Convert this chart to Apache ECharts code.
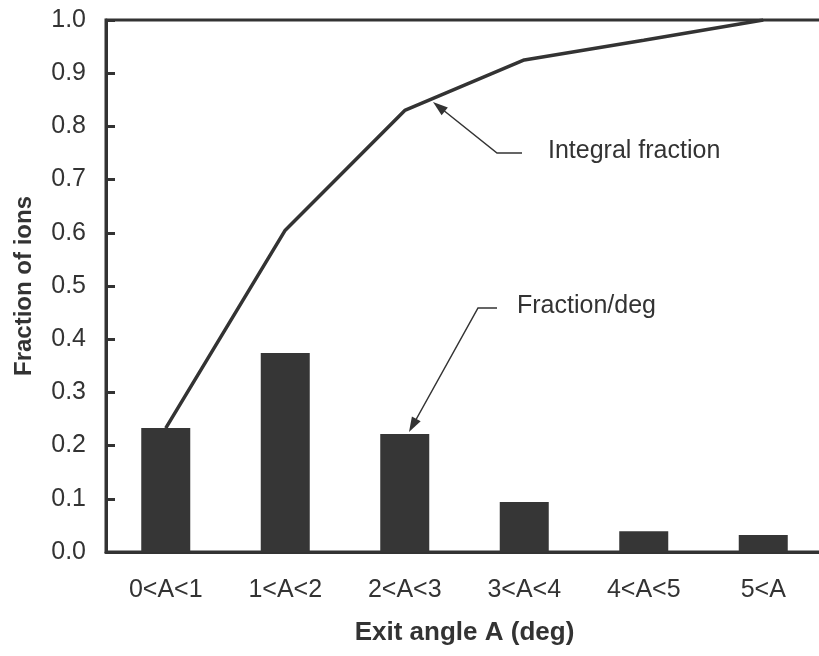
<!DOCTYPE html>
<html>
<head>
<meta charset="utf-8">
<script src="https://cdn.jsdelivr.net/npm/echarts@6/dist/echarts.min.js"></script>
<style>
  html,body{margin:0;padding:0;background:#fff;}
  #main{width:819px;height:656px;}
</style>
</head>
<body>
<div id="main"></div>
<script>
// categories and values
var categories = ["0<A<1", "1<A<2", "2<A<3", "3<A<4", "4<A<5", "5<A"];
var fractionPerDeg = [0.233, 0.374, 0.222, 0.094, 0.039, 0.032];
var integralFraction = [0.233, 0.605, 0.830, 0.925, 0.962, 1.0];

var ink = "#333333";
var font = "Liberation Sans, Arial, sans-serif";

// arrow head as polygon, tip at (tx,ty), coming from (fx,fy)
function arrowHead(fx, fy, tx, ty, len, half) {
	var dx = tx - fx, dy = ty - fy;
	var d = Math.sqrt(dx * dx + dy * dy);
	var ux = dx / d, uy = dy / d;
	var bx = tx - ux * len, by = ty - uy * len;
	return [[tx, ty], [bx - uy * half, by + ux * half], [bx + uy * half, by - ux * half]];
}

var myChart = echarts.init(document.getElementById("main"));

var option = {
	backgroundColor: "#fff",
	animation: false,
	grid: {
		left: 106,
		width: 717,
		top: 20,
		bottom: 104,
		containLabel: false,
		outerBoundsMode: "none",
		show: true,
		borderColor: ink,
		borderWidth: 3
	},
	xAxis: {
		type: "category",
		data: categories,
		name: "Exit angle A (deg)",
		nameLocation: "middle",
		nameGap: 68,
		nameTextStyle: {color: ink, fontSize: 26, fontWeight: "bold", fontFamily: font},
		axisLine: {lineStyle: {color: ink, width: 3}},
		axisTick: {inside: true, length: 9, lineStyle: {color: ink, width: 3}},
		axisLabel: {color: ink, fontSize: 25, fontFamily: font, margin: 26},
		splitLine: {show: false}
	},
	yAxis: {
		type: "value",
		min: 0,
		max: 1,
		interval: 0.1,
		name: "Fraction of ions",
		nameLocation: "middle",
		nameGap: 70,
		nameRotate: 90,
		nameTextStyle: {color: ink, fontSize: 24, fontWeight: "bold", fontFamily: font},
		axisLine: {show: true, lineStyle: {color: ink, width: 3}},
		axisTick: {show: true, inside: true, length: 9, lineStyle: {color: ink, width: 3}},
		axisLabel: {
			color: ink, fontSize: 25, fontFamily: font, margin: 20,
			formatter: function (v) { return v.toFixed(1); }
		},
		splitLine: {show: false}
	},
	series: [
		{
			name: "Fraction/deg",
			type: "bar",
			data: fractionPerDeg,
			barWidth: 49,
			itemStyle: {color: "#363636"}
		},
		{
			name: "Integral fraction",
			type: "line",
			data: integralFraction,
			symbol: "none",
			lineStyle: {color: ink, width: 3.5}
		}
	]
};
myChart.setOption(option);

// leader lines and labels
var g1 = arrowHead(497, 153, 433, 102, 15, 5);
var g2 = arrowHead(478, 308, 409, 432, 15, 5);
myChart.setOption({
	graphic: [
		{type: "polyline", shape: {points: [[522, 153], [497, 153], [440, 107.5]]},
			style: {stroke: ink, lineWidth: 1.5, fill: null}},
		{type: "polygon", shape: {points: g1}, style: {fill: ink}},
		{type: "text", left: 548, top: 139,
			style: {text: "Integral fraction", fill: ink, fontSize: 25, fontFamily: font}},
		{type: "polyline", shape: {points: [[497, 308], [478, 308], [413, 425]]},
			style: {stroke: ink, lineWidth: 1.5, fill: null}},
		{type: "polygon", shape: {points: g2}, style: {fill: ink}},
		{type: "text", left: 517, top: 294,
			style: {text: "Fraction/deg", fill: ink, fontSize: 25, fontFamily: font}}
	]
});
</script>
</body>
</html>
